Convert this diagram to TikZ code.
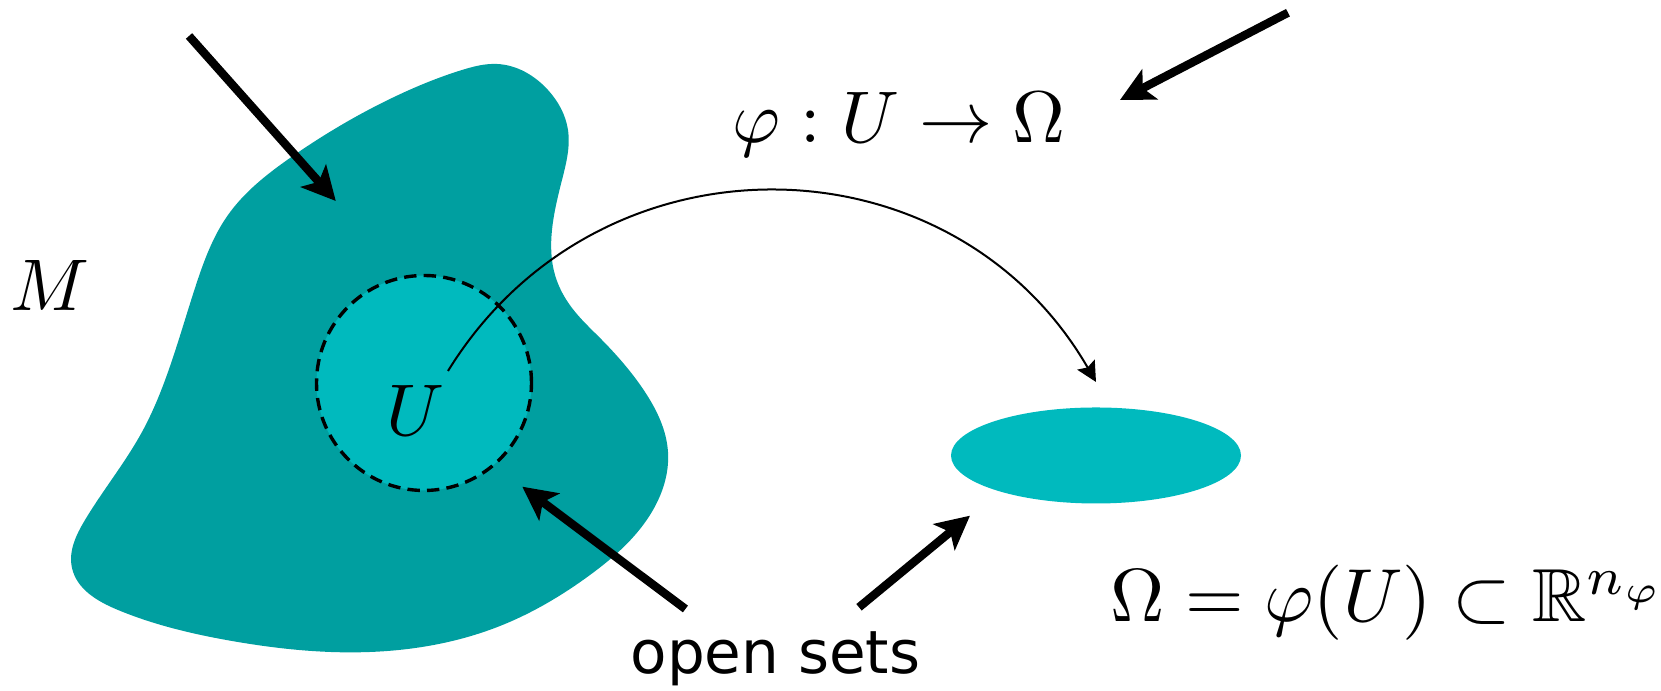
\documentclass[tikz,border=0pt]{standalone}
\usepackage{amssymb}
\usepackage{fontspec}
\newfontfamily\labelfont{DejaVu Sans}
\usetikzlibrary{arrows.meta,shapes.geometric,hobby}
\definecolor{manifold}{RGB}{0,159,160}
\definecolor{openset}{RGB}{0,186,190}
\newcommand{\bigmath}[2][1.83]{\scalebox{#1}{$#2$}}

\begin{document}
\begin{tikzpicture}[x=0.25pt,y=-0.25pt,
  pointer/.style={line width=2.1pt,-{Stealth[length=8.4pt,width=8.4pt,inset=2pt]}},
  mapsto/.style={line width=0.5pt,-{Stealth[length=5pt,width=5pt,inset=0.8pt]}},
  mathlabel/.style={inner sep=0pt,anchor=base},
  wordlabel/.style={inner sep=0pt,anchor=base,font=\fontsize{14.9}{18}\selectfont\labelfont},
  chart/.style={circle,fill=openset,draw=black,line width=0.85pt,
    dash pattern=on 3.1pt off 1.8pt,inner sep=0pt,minimum size=53.75pt},
  image/.style={ellipse,fill=openset,inner sep=0pt,minimum width=72.5pt,minimum height=24pt}]
\useasboundingbox (0,0) rectangle (1661,691);

% the manifold M
\fill[manifold,use Hobby shortcut,closed=true]
  (497,64) .. (548,90) .. (568,130) .. (562,180) .. (552,230) .. (555,275)
  .. (572,308) .. (600,338) .. (645,392) .. (668,452) .. (650,515)
  .. (590,575) .. (500,626) .. (370,652) .. (232,641) .. (118,610)
  .. (72,568) .. (85,520) .. (142,432) .. (168,372) .. (196,285)
  .. (228,215) .. (290,158) .. (392,98) .. (462,70);

% the chart domain U and its image
\node[chart] (Uset) at (424,383) {};
\node[image] (Omega) at (1096,455.5) {};

% labels
\node[mathlabel] (Mlabel) at (50,311) {\bigmath{M}};
\node[mathlabel] (Ulabel) at (415,436) {\bigmath{U}};
\node[mathlabel] (maplabel) at (899,143) {\bigmath{\varphi : U \to \Omega}};
\node[mathlabel] (imagelabel) at (1388,622) {\bigmath[1.88]{\Omega = \varphi(U) \subset \mathbb{R}^{n_\varphi}}};
\node[wordlabel] (openlabel) at (775.5,674) {open sets};

% the map phi
\coordinate (phistart) at (448,371);
\coordinate (phiend) at (1096,382);
\draw[mapsto] (phistart) .. controls (599,126) and (952,133) .. (phiend);

% pointers
\coordinate (mtail) at (189,36);
\coordinate (mtip) at (335.8,201);
\coordinate (rtail) at (1288,12.7);
\coordinate (rtip) at (1120,100);
\coordinate (utail) at (685.4,609);
\coordinate (utip) at (522.3,486.7);
\coordinate (otail) at (859,607.3);
\coordinate (otip) at (970,515.7);
\draw[pointer] (mtail) -- (mtip);
\draw[pointer] (rtail) -- (rtip);
\draw[pointer] (utail) -- (utip);
\draw[pointer] (otail) -- (otip);
\end{tikzpicture}
\end{document}
